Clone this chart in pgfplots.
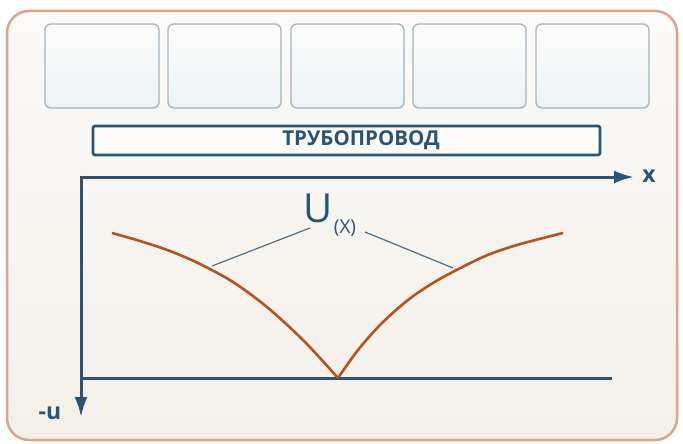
\documentclass[border=0pt]{standalone}
\usepackage{fontspec}
\setmainfont{Open Sans}
\usepackage{pgfplots}
\pgfplotsset{compat=1.18}
\usetikzlibrary{arrows.meta}
\definecolor{frameline}{HTML}{DEA38E}
\definecolor{frametop}{HTML}{FBFAF8}
\definecolor{framebot}{HTML}{F3EFE9}
\definecolor{boxline}{HTML}{A2B5C2}
\definecolor{boxtop}{HTML}{FDFCFB}
\definecolor{boxbot}{HTML}{EDF3F6}
\definecolor{navy}{HTML}{2C5472}
\definecolor{curve}{HTML}{B4531D}
\tikzset{topbox/.style={top color=boxtop, bottom color=boxbot, draw=boxline,
  line width=1.3pt, rounded corners=6pt}}

\begin{document}
\begin{tikzpicture}
\useasboundingbox (0,0) rectangle (683pt,444pt);
\begin{axis}[
  at={(0,0)}, anchor=south west,
  width=683pt, height=444pt, scale only axis,
  xmin=0, xmax=683, ymin=0, ymax=444,
  y dir=reverse, hide axis, clip=false,
]
  % outer frame
  \shade[top color=frametop, bottom color=framebot, draw=frameline,
    line width=2.5pt, rounded corners=22pt] (7,11) rectangle (677,440);

  % five boxes
  \shade[topbox] (45,24) rectangle (159,108);
  \shade[topbox] (168,24) rectangle (281,108);
  \shade[topbox] (291,24) rectangle (404,108);
  \shade[topbox] (413,24) rectangle (526,108);
  \shade[topbox] (536,24) rectangle (649,108);

  % pipeline box
  \filldraw[fill=frametop, draw=navy, line width=2.6pt, rounded corners=2pt]
    (93,126) rectangle (600,155);
  \node[navy, font=\bfseries\fontsize{20.5}{20.5}\selectfont] at (361,140.5) {ТРУБОПРОВОД};

  % axes
  \draw[navy, line width=3pt, -{Latex[length=20pt,width=13pt]}]
    (81,177) -- (634,177);
  \draw[navy, line width=3pt, -{Latex[length=20pt,width=13pt]}]
    (81,175.5) -- (81,417);
  \draw[navy, line width=3pt] (81,378) -- (612,378);
  \node[navy, font=\bfseries\fontsize{23}{23}\selectfont] at (649,176) {x};
  \node[navy, font=\bfseries\fontsize{23}{23}\selectfont] at (50,413) {-u};

  % label with leader lines
  \draw[navy!85, line width=1.2pt] (212,266) -- (310,228);
  \draw[navy!85, line width=1.2pt] (365,232) -- (453,268);
  \node[navy, font=\fontsize{40}{40}\selectfont, inner sep=0pt, anchor=base]
    at (318,222) {U};
  \node[navy, font=\fontsize{19}{19}\selectfont, inner sep=0pt, anchor=base]
    at (345,233) {(X)};

  % U(x)
  \addplot[curve, line width=2.6pt, smooth, tension=0.5] coordinates {
    (112,233) (140,241) (170,251) (200,264) (233,282)
    (267,307) (300,337) (320,358) (338,378)
  };
  \addplot[curve, line width=2.6pt, smooth, tension=0.5] coordinates {
    (338,378) (358,350) (381,324) (408,300) (438,280)
    (483,257) (517,245) (563,233)
  };
\end{axis}
\end{tikzpicture}
\end{document}
